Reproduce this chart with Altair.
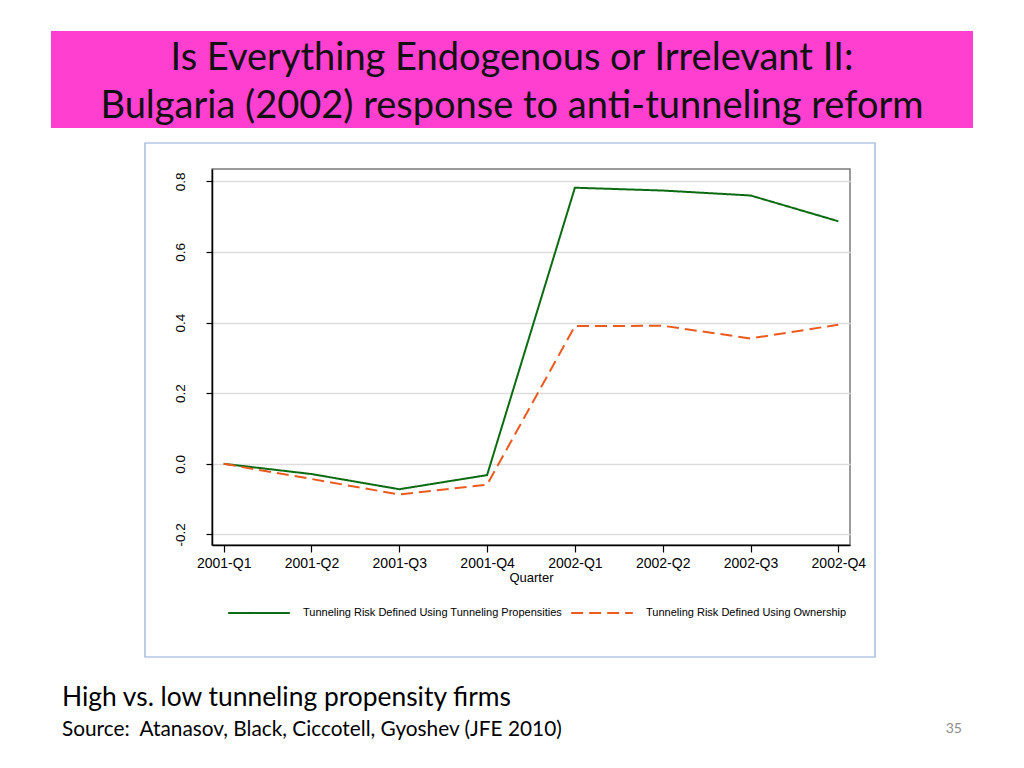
import altair as alt
import pandas as pd

quarters = ["2001-Q1", "2001-Q2", "2001-Q3", "2001-Q4",
            "2002-Q1", "2002-Q2", "2002-Q3", "2002-Q4"]
propensities = [0.0, -0.029, -0.072, -0.032, 0.782, 0.774, 0.760, 0.687]
ownership = [0.0, -0.043, -0.087, -0.059, 0.390, 0.391, 0.355, 0.394]
series_names = ["Tunneling Risk Defined Using Tunneling Propensities",
                "Tunneling Risk Defined Using Ownership"]
y_ticks = [-0.2, 0.0, 0.2, 0.4, 0.6, 0.8]

title_lines = ["Is Everything Endogenous or Irrelevant II:",
               "Bulgaria (2002) response to anti-tunneling reform"]
note_lines = ["High vs. low tunneling propensity firms",
              "Source:\u00a0 Atanasov, Black, Ciccotell, Gyoshev (JFE 2010)"]
page_number = ["35"]

rows = []
for q, v in zip(quarters, propensities):
    rows.append({"Quarter": q, "value": v, "series": series_names[0]})
for q, v in zip(quarters, ownership):
    rows.append({"Quarter": q, "value": v, "series": series_names[1]})
df = pd.DataFrame(rows)

one = pd.DataFrame({"a": [0]})

pink_box = alt.Chart(one).mark_rect(color="#FF3FCF").encode(
    x=alt.value(-161), x2=alt.value(761), y=alt.value(-138), y2=alt.value(-41))
frame_box = alt.Chart(one).mark_rect(fill="transparent", stroke="#8FAAD3", strokeWidth=1.2).encode(
    x=alt.value(-67), x2=alt.value(663), y=alt.value(-26), y2=alt.value(488))

def text_layer(txt, x, y, size, align="left", color="#000000", font="Lato"):
    return alt.Chart(pd.DataFrame({"t": [txt]})).mark_text(
        align=align, baseline="alphabetic", font=font, fontSize=size, color=color
    ).encode(text="t:N", x=alt.value(x), y=alt.value(y))

t1 = text_layer(title_lines[0], 300, -99, 38, align="center", color="#111111")
t2 = text_layer(title_lines[1], 300, -51, 38, align="center", color="#111111")
n1 = text_layer(note_lines[0], -150, 537, 26.4)
n2 = text_layer(note_lines[1], -150, 567, 20.8)
pn = text_layer(page_number[0], 750, 564, 14, align="right", color="#8C8C8C")

legend_cfg = alt.Legend(
    title=None, orient="none", direction="horizontal", columns=2,
    legendX=15, legendY=412, symbolType="stroke", symbolSize=3800,
    symbolStrokeWidth=2, labelFontSize=11, labelFont="Liberation Sans",
    labelOffset=12, columnPadding=4, labelLimit=400, labelColor="#000000")

lines = alt.Chart(df).mark_line(strokeWidth=2).encode(
    x=alt.X("Quarter:N", sort=quarters,
            scale=alt.Scale(type="point", padding=0.133),
            axis=alt.Axis(title="Quarter", labelAngle=0, labelFontSize=14,
                          labelFont="Liberation Sans", labelColor="#000000",
                          titleFont="Liberation Sans", titleFontSize=13,
                          titleFontWeight="normal", titleColor="#000000",
                          titlePadding=1, labelPadding=4,
                          tickSize=7, tickColor="#000000", tickWidth=1.2,
                          domainColor="#000000", domainWidth=1.5, grid=False)),
    y=alt.Y("value:Q",
            scale=alt.Scale(domain=[-0.230, 0.835], nice=False, zero=False),
            axis=alt.Axis(title=None, values=y_ticks,
                          labelExpr="datum.value < 0 ? '-' + format(abs(datum.value), '.1f') : format(datum.value, '.1f')",
                          labelAngle=270, labelFontSize=13.5,
                          labelFont="Liberation Sans", labelColor="#000000",
                          labelPadding=19, labelAlign="center",
                          tickSize=6, tickColor="#000000", tickWidth=1.2,
                          domainColor="#000000", domainWidth=1.5,
                          grid=True, gridColor="#DDDDDD", gridWidth=1.6)),
    color=alt.Color("series:N",
                    scale=alt.Scale(domain=series_names, range=["#0B6B12", "#EC5A1E"]),
                    legend=legend_cfg),
    strokeDash=alt.StrokeDash("series:N",
                              scale=alt.Scale(domain=series_names, range=[[1, 0], [12, 6]]),
                              legend=legend_cfg),
)

chart = alt.layer(pink_box, frame_box, t1, t2, n1, n2, pn, lines).properties(
    width=638, height=376,
    autosize=alt.AutoSizeParams(type="none"),
    padding={"left": 204, "top": 161, "right": 166, "bottom": 210},
    background="white",
).configure_view(stroke="#7A7A7A", strokeWidth=1.5)

chart.save("out.html", embed_options={"renderer": "svg", "actions": False})
